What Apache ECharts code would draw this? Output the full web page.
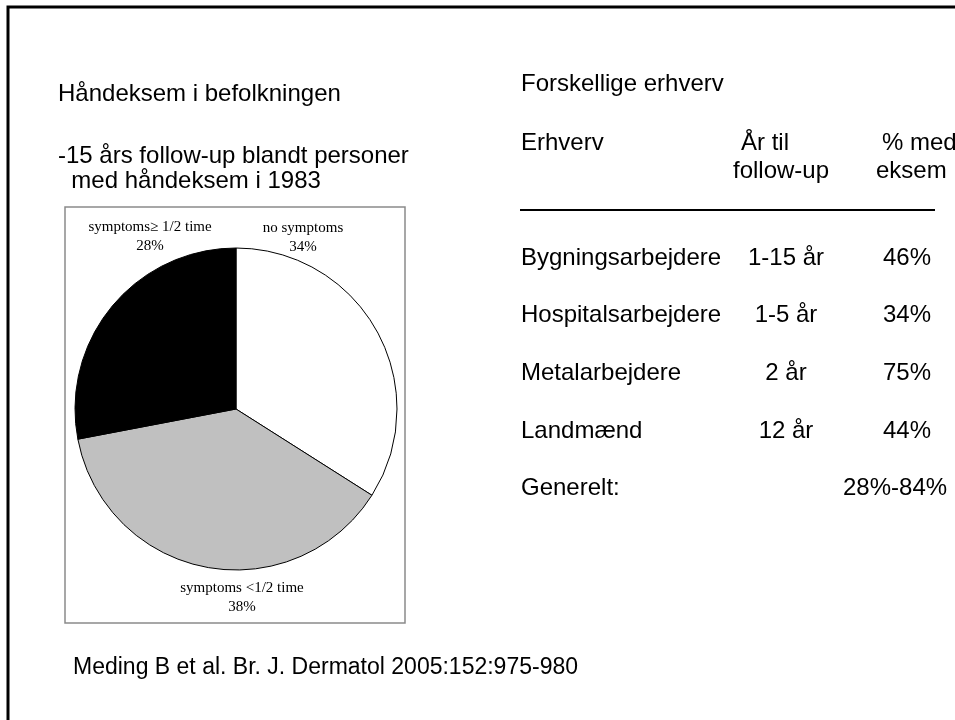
<!DOCTYPE html>
<html>
<head>
<meta charset="utf-8">
<script src="https://cdn.jsdelivr.net/npm/echarts@6/dist/echarts.min.js"></script>
<style>
  html, body { margin: 0; padding: 0; background: #fff; }
  #chart { width: 955px; height: 720px; }
</style>
</head>
<body>
<div id="chart"></div>
<script>
// ── pie data ──
const sliceNames  = ['no symptoms', 'symptoms <1/2 time', 'symptoms\u2265 1/2 time'];
const sliceValues = [34, 38, 28];
const sliceColors = ['#ffffff', '#c0c0c0', '#000000'];

// ── table data ──
const jobs     = ['Bygningsarbejdere', 'Hospitalsarbejdere', 'Metalarbejdere', 'Landmænd'];
const years    = ['1-15 år', '1-5 år', '2 år', '12 år'];
const percents = ['46%', '34%', '75%', '44%'];
const overall  = '28%-84%';

const chart = echarts.init(document.getElementById('chart'));

const SANS = 'Liberation Sans, Arial, sans-serif';
const SERIF = 'Liberation Serif, Times New Roman, serif';
const txt = (x, y, text, extra) => ({
  type: 'text', x, y, silent: true,
  style: Object.assign({ text, fill: '#000', font: '24px ' + SANS, verticalAlign: 'middle' }, extra || {}),
});

// 标签位置（按扇区顺序）
const labelPos = [[303, 238], [242, 598], [150, 237]];

const graphics = [
  // slide frame
  { type: 'rect', silent: true, shape: { x: 8, y: 7, width: 980, height: 740 },
    style: { fill: 'none', stroke: '#000', lineWidth: 3 } },
  // pie box
  { type: 'rect', silent: true, shape: { x: 65, y: 207, width: 340, height: 416 },
    style: { fill: 'none', stroke: '#8a8a8a', lineWidth: 1.5 } },
  txt(58, 94, 'Håndeksem i befolkningen'),
  txt(58, 156, '-15 års follow-up blandt personer'),
  txt(58, 181, '  med håndeksem i 1983'),
  txt(521, 84, 'Forskellige erhverv'),
  txt(521, 143, 'Erhverv'),
  txt(741, 143, 'År til'),
  txt(733, 171, 'follow-up'),
  txt(882, 143, '% med'),
  txt(876, 171, 'eksem'),
  { type: 'line', silent: true, shape: { x1: 520, y1: 210, x2: 935, y2: 210 },
    style: { stroke: '#000', lineWidth: 2 } },
  txt(521, 488, 'Generelt:'),
  txt(843, 488, overall),
  txt(73, 668, 'Meding B et al. Br. J. Dermatol 2005:152:975-980', { font: '23px ' + SANS }),
];

jobs.forEach((job, i) => {
  const y = 258 + i * 57.7;
  graphics.push(txt(521, y, job));
  graphics.push(txt(786, y, years[i], { align: 'center' }));
  graphics.push(txt(907, y, percents[i], { align: 'center' }));
});

chart.setOption({
  animation: false,
  graphic: graphics,
  series: [{
    type: 'pie',
    center: [236, 409],
    radius: 161,
    startAngle: 90,
    clockwise: true,
    silent: true,
    itemStyle: { borderColor: '#000', borderWidth: 1 },
    label: {
      show: true,
      position: 'inside',
      overflow: 'none',
      formatter: p => p.name + '\n' + p.value + '%',
      fontFamily: SERIF,
      fontSize: 15,
      lineHeight: 19,
      color: '#000',
      align: 'center',
    },
    labelLine: { show: false },
    labelLayout: p => ({
      x: labelPos[p.dataIndex][0],
      y: labelPos[p.dataIndex][1],
      align: 'center',
      verticalAlign: 'middle',
    }),
    data: sliceNames.map((name, i) => ({
      name, value: sliceValues[i], itemStyle: { color: sliceColors[i] },
    })),
  }],
});
</script>
</body>
</html>
